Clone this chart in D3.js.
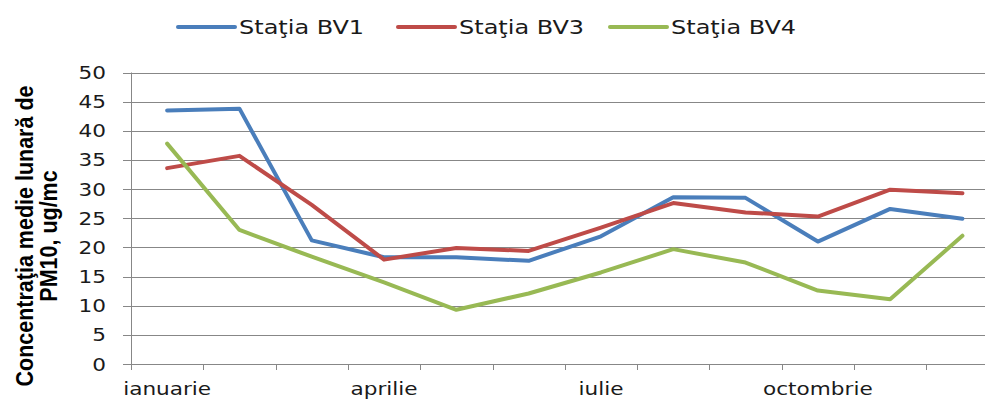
<!DOCTYPE html>
<html>
<head>
<meta charset="utf-8">
<script src="https://cdn.jsdelivr.net/npm/d3@7"></script>
<style>
    body { margin: 0; background: #fff; }
    #chart { width: 985px; height: 401px; overflow: hidden; }
    .lbl { font-family: "DejaVu Sans", sans-serif; fill: #1a1a1a; }
</style>
</head>
<body>
<div id="chart"></div>
<script>
// monthly PM10 means
const months = ["ianuarie", "februarie", "martie", "aprilie", "mai", "iunie",
    "iulie", "august", "septembrie", "octombrie", "noiembrie", "decembrie"];
const shownMonths = ["ianuarie", "aprilie", "iulie", "octombrie"];
const seriesNames = ["Staţia BV1", "Staţia BV3", "Staţia BV4"];
const seriesColors = ["#4a7ebb", "#be4b48", "#98b954"];
const bv1 = [43.5, 43.8, 21.2, 18.3, 18.3, 17.7, 21.9, 28.6, 28.5, 21.0, 26.6, 24.9];
const bv3 = [33.6, 35.7, 27.3, 17.9, 19.9, 19.4, 23.4, 27.6, 26.0, 25.3, 29.9, 29.3];
const bv4 = [37.8, 23.0, 18.4, 14.0, 9.3, 12.1, 15.7, 19.7, 17.4, 12.6, 11.1, 22.0];
const yTicks = [0, 5, 10, 15, 20, 25, 30, 35, 40, 45, 50];

const width = 985, height = 401;
const margin = {top: 72.5, left: 131, bottom: 37};
const bandW = 72.3;
const stretch = 1.2; // text in the picture is a bit wider than the fonts we have

const svg = d3.select("#chart").append("svg")
    .attr("width", width)
    .attr("height", height);

// scales
const x = d3.scaleBand()
    .domain(months)
    .range([margin.left, margin.left + bandW * months.length]);
const y = d3.scaleLinear()
    .domain([0, 50])
    .range([height - margin.bottom, margin.top]);

// grid lines + y ticks
svg.append("g").selectAll("line")
    .data(yTicks)
    .enter().append("line")
    .attr("x1", margin.left - 8)
    .attr("x2", x.range()[1])
    .attr("y1", d => Math.round(y(d)) + 0.5)
    .attr("y2", d => Math.round(y(d)) + 0.5)
    .attr("stroke", "#878787")
    .attr("stroke-width", 1);

svg.append("g").selectAll("text")
    .data(yTicks)
    .enter().append("text")
    .attr("class", "lbl")
    .attr("transform", d => `translate(106, ${y(d) + 6.5}) scale(${stretch},1)`)
    .attr("text-anchor", "end")
    .style("font-size", "18px")
    .text(d => d);

// y axis line
svg.append("line")
    .attr("x1", margin.left + 0.5).attr("x2", margin.left + 0.5)
    .attr("y1", y(50)).attr("y2", y(0))
    .attr("stroke", "#878787");

// x axis ticks on band edges
const edges = months.map(m => x(m)).concat([x.range()[1]]);
svg.append("g").selectAll("line")
    .data(edges)
    .enter().append("line")
    .attr("x1", d => Math.round(d) + 0.5)
    .attr("x2", d => Math.round(d) + 0.5)
    .attr("y1", y(0))
    .attr("y2", y(0) + 6)
    .attr("stroke", "#878787");

// only every third month gets a label; keep them just inside the bottom edge
svg.append("g").selectAll("text")
    .data(shownMonths)
    .enter().append("text")
    .attr("class", "lbl")
    .attr("transform", d => `translate(${x(d) + x.bandwidth() / 2}, 395) scale(${stretch},1)`)
    .attr("text-anchor", "middle")
    .style("font-size", "18px")
    .text(d => d);

// y axis title, two lines
const yTitle = ["Concentraţia medie lunară de", "PM10, ug/mc"];
svg.append("g").selectAll("text")
    .data(yTitle)
    .enter().append("text")
    .attr("transform", (d, i) => `translate(${33 + i * 24}, 236) rotate(-90) scale(1,1.15)`)
    .attr("text-anchor", "middle")
    .style("font-family", "'Liberation Sans', Arial, sans-serif")
    .style("font-weight", "bold")
    .style("font-size", "21.5px")
    .style("fill", "#000")
    .text(d => d);

// lines
const line = d3.line()
    .x((d, i) => x(months[i]) + x.bandwidth() / 2)
    .y(d => y(d));

[bv1, bv3, bv4].forEach((vals, i) => {
    svg.append("path")
        .datum(vals)
        .attr("d", line)
        .attr("fill", "none")
        .attr("stroke", seriesColors[i])
        .attr("stroke-width", 4)
        .attr("stroke-linejoin", "round")
        .attr("stroke-linecap", "round");
});

// legend
const legendX = [178, 398, 610];
const legend = svg.append("g");
seriesNames.forEach((name, i) => {
    legend.append("line")
        .attr("x1", legendX[i]).attr("x2", legendX[i] + 57)
        .attr("y1", 27).attr("y2", 27)
        .attr("stroke", seriesColors[i])
        .attr("stroke-width", 4)
        .attr("stroke-linecap", "round");
    legend.append("text")
        .attr("class", "lbl")
        .attr("transform", `translate(${legendX[i] + 61}, 34) scale(${stretch},1)`)
        .style("font-size", "20px")
        .text(name);
});
</script>
</body>
</html>
